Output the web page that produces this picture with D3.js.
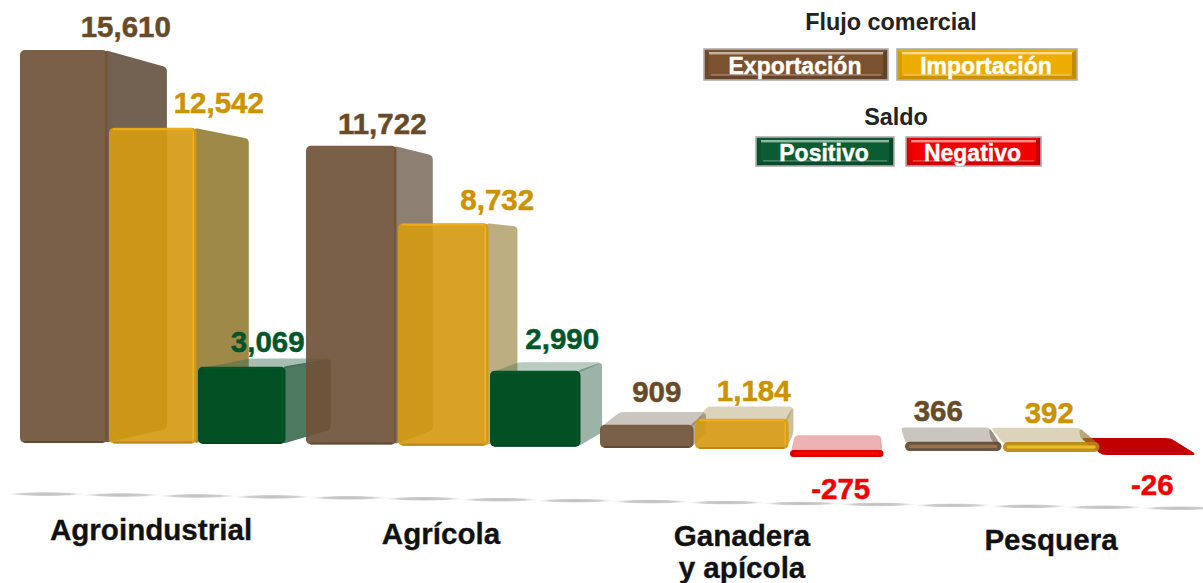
<!DOCTYPE html>
<html>
<head>
<meta charset="utf-8">
<script src="https://cdn.jsdelivr.net/npm/d3@7"></script>
<style>
  html, body { margin: 0; padding: 0; background: #fff; }
  svg { display: block; }
  text { font-family: "Liberation Sans", Arial, sans-serif; font-weight: bold; }
</style>
</head>
<body>
<div id="viz"></div>
<script>
const width = 1203
const height = 583

// Values
const categories = ["Agroindustrial", "Agrícola", "Ganadera\ny apícola", "Pesquera"]
const exportacion = [15610, 11722, 909, 366]
const importacion = [12542, 8732, 1184, 392]
const saldo = [3069, 2990, -275, -26]

const flujoLabels = ["Exportación", "Importación"]
const saldoLabels = ["Positivo", "Negativo"]

const colors = {exp: "#6f5238", imp: "#d49a12", pos: "#024f24", neg: "#f00000"}
const sideColors = {exp: "#6b5a48", imp: "#97803a", pos: "#3a6a50", neg: "#cc2020"}
const textColors = {exp: "#684a28", imp: "#cc9200", pos: "#00562a", neg: "#f00000"}

// Layout, the bars get wider and lower going right because of the perspective
const vanish = {x: 850, y: 265, k: 0.08}
const groupX = d3.scaleLinear().domain([0, 1, 2, 3]).range([20, 306, 600, 905])
const step = d3.scaleLinear().domain([0, 3]).range([89, 98])
const baseY = d3.scaleLinear().domain([0, 3, 6, 11]).range([443, 444.5, 448, 453])
const yScale = d3.scaleLinear().domain([0, 15610]).range([0, 393])
const depthScale = d3.scaleLinear().domain([0, 1, 3]).range([1, 1.012, 1.012])
const sideAlpha = d3.scaleLinear().domain([0, 2, 5]).range([0.95, 0.9, 0.5]).clamp(true)

// label offset from the middle of the bar / from the bar top
const labelDx = [[62, 66, 26], [31, 54, 27], [10, 12, 4], [-15, -2, 3]]
const labelDy = [[-13, -15, -15], [-12, -13, -22], [-23, -18, 49], [-21, -19, 42]]

const svg = d3.select("#viz").append("svg")
  .attr("width", width)
  .attr("height", height)

// Ground line under the bars, a row of thin lens shapes fading at the ends
const lens = svg.append("defs").append("radialGradient").attr("id", "lens")
lens.append("stop").attr("offset", 0).attr("stop-color", "#bdbdbd")
lens.append("stop").attr("offset", 0.6).attr("stop-color", "#cfcfcf")
lens.append("stop").attr("offset", 1).attr("stop-color", "#fff").attr("stop-opacity", 0)

const groundX = d3.scaleLinear().domain([0, 15]).range([46, 1180])
const groundY = d3.scaleLinear().domain([0, 1203]).range([493.5, 508.5])
svg.append("g")
  .selectAll("ellipse")
  .data(d3.range(16))
  .enter().append("ellipse")
  .attr("cx", d => groundX(d))
  .attr("cy", d => groundY(groundX(d)))
  .attr("rx", 42)
  .attr("ry", 2.4)
  .attr("fill", "url(#lens)")

// closed polygon with rounded corners
function roundPoly(pts, r) {
  let path = ""
  pts.forEach((p, i) => {
    const a = pts[(i + pts.length - 1) % pts.length]
    const b = pts[(i + 1) % pts.length]
    const la = Math.hypot(a[0] - p[0], a[1] - p[1]) || 1
    const lb = Math.hypot(b[0] - p[0], b[1] - p[1]) || 1
    const ra = Math.min(r, la / 2), rb = Math.min(r, lb / 2)
    const s = [p[0] + (a[0] - p[0]) * ra / la, p[1] + (a[1] - p[1]) * ra / la]
    const e = [p[0] + (b[0] - p[0]) * rb / lb, p[1] + (b[1] - p[1]) * rb / lb]
    path += (i == 0 ? "M" : "L") + s[0] + "," + s[1] + "Q" + p[0] + "," + p[1] + " " + e[0] + "," + e[1]
  })
  return path + "Z"
}

function back(p) {
  return [p[0] + vanish.k * (vanish.x - p[0]), p[1] + vanish.k * (vanish.y - p[1])]
}

const bars = []
categories.forEach((c, i) => {
  const values = [exportacion[i], importacion[i], saldo[i]]
  values.forEach((v, j) => {
    const key = j == 0 ? "exp" : j == 1 ? "imp" : (v >= 0 ? "pos" : "neg")
    bars.push({i: i, j: j, n: i * 3 + j, value: v, key: key})
  })
})

// negative bars lie behind their neighbours
const drawOrder = bars.slice().sort((a, b) =>
  d3.ascending(a.i, b.i) || d3.descending(a.value < 0, b.value < 0) || d3.ascending(a.j, b.j))

const g = svg.append("g")

drawOrder.forEach(d => {
  const x0 = groupX(d.i) + d.j * step(d.i)
  const x1 = x0 + step(d.i) - 1.5
  const base = baseY(d.n)
  const h = Math.max(yScale(Math.abs(d.value)) * depthScale(d.i), 1)
  const top = d.value >= 0 ? base - h : base
  const bottom = top + h
  d.x0 = x0; d.x1 = x1; d.top = top

  const tl = back([x0, top]), tr = back([x1, top]), br = back([x1, bottom])
  const solid = d.n == 11
  const alpha = solid ? 1 : sideAlpha(d.n)
  const bar = g.append("g").attr("class", "bar")

  bar.append("path")
    .attr("d", roundPoly([[x1 - 3, top], tr, br, [x1 - 3, bottom]], 4))
    .attr("fill", solid ? "#c00000" : sideColors[d.key])
    .attr("fill-opacity", alpha)
  // the top face only shows on bars lower than the vanishing point
  if (top > vanish.y) {
    bar.append("path")
      .attr("d", roundPoly([[x0 + 1, top + 2], tl, tr, [x1 - 1, top + 2]], 4))
      .attr("fill", solid ? "#c00000" : sideColors[d.key])
      .attr("fill-opacity", solid ? 1 : Math.min(alpha, 0.62) * 0.7)
  }

  if (solid) return

  const thin = h < 12
  bar.append("rect")
    .attr("x", x0).attr("y", top)
    .attr("width", x1 - x0).attr("height", h)
    .attr("rx", Math.min(5, h / 2))
    .attr("fill", thin ? d3.color(colors[d.key]).darker(0.4) : colors[d.key])
    .attr("fill-opacity", d.key == "imp" || d.key == "exp" ? 0.92 : 1)

  // bevel on the edges of the front face
  const light = d3.color(colors[d.key]).brighter(0.45)
  const dark = d3.color(colors[d.key]).darker(0.6)
  if (thin) {
    // low bars are almost only bevel, with a light stripe in the middle
    bar.append("rect")
      .attr("x", x0 + 4).attr("y", top + h / 2 - 1.6)
      .attr("width", x1 - x0 - 8).attr("height", 3.2)
      .attr("rx", 1)
      .attr("fill", d.key == "imp" ? "#efbd22" : d3.color(colors[d.key]).brighter(0.9))
    return
  }
  bar.append("rect")
    .attr("x", x0 + 4).attr("y", bottom - 2)
    .attr("width", x1 - x0 - 8).attr("height", 2)
    .attr("rx", 1)
    .attr("fill", dark)
    .attr("fill-opacity", 0.7)
  bar.append("rect")
    .attr("x", x0 + 4).attr("y", top + 0.5)
    .attr("width", x1 - x0 - 8).attr("height", 2)
    .attr("rx", 1)
    .attr("fill", light)
    .attr("fill-opacity", 0.7)
  bar.append("rect")
    .attr("x", x1 - 4).attr("y", top + 3)
    .attr("width", 1.6).attr("height", h - 7)
    .attr("fill", light)
    .attr("fill-opacity", 0.8)
})

// Value labels
const valueFormat = d3.formatLocale({decimal: ".", thousands: ",", grouping: [3], currency: ["", ""], minus: "-"}).format(",")
svg.selectAll(".value")
  .data(bars)
  .enter().append("text")
  .attr("class", "value")
  .attr("x", d => (d.x0 + d.x1) / 2 + labelDx[d.i][d.j])
  .attr("y", d => d.top + labelDy[d.i][d.j])
  .attr("text-anchor", "middle")
  .attr("font-size", 29.5)
  .attr("fill", d => textColors[d.key])
  .attr("stroke", d => textColors[d.key])
  .attr("stroke-width", 0.5)
  .text(d => valueFormat(d.value))

// Category labels
const categoryX = [151, 441, 742, 1051]
const categoryY = [540, 544, 546, 550]
const catText = svg.selectAll(".cat")
  .data(categories)
  .enter().append("text")
  .attr("class", "cat")
  .attr("text-anchor", "middle")
  .attr("font-size", 29.6)
  .attr("fill", "#111")
  .attr("stroke", "#111")
  .attr("stroke-width", 0.3)
catText.selectAll("tspan")
  .data((d, i) => d.split("\n").map((t, l) => ({t: t, l: l, i: i})))
  .enter().append("tspan")
  .attr("x", d => categoryX[d.i])
  .attr("y", d => categoryY[d.i] + d.l * 32)
  .text(d => d.t)

// Legend
function button(x, y, w, h, label, color) {
  const b = svg.append("g").attr("class", "legend-btn")
  const lo = d3.color(color).darker(0.9)
  const hi = d3.interpolateRgb(color, "#fff")(0.55)
  b.append("rect").attr("x", x).attr("y", y).attr("width", w).attr("height", h)
    .attr("fill", color).attr("stroke", "#adadad").attr("stroke-width", 1.6)
  // dark sloped edges
  b.append("path")
    .attr("d", d3.line()([[x + 1, y + h - 1], [x + w - 1, y + h - 1], [x + w - 5, y + h - 4], [x + 5, y + h - 4]]))
    .attr("fill", lo).attr("fill-opacity", 0.55)
  b.append("path")
    .attr("d", d3.line()([[x + w - 1, y + 1], [x + w - 1, y + h - 1], [x + w - 5, y + h - 4], [x + w - 5, y + 4]]))
    .attr("fill", lo).attr("fill-opacity", 0.7)
  b.append("path")
    .attr("d", d3.line()([[x + 1, y + 1], [x + 1, y + h - 1], [x + 5, y + h - 4], [x + 5, y + 4]]))
    .attr("fill", lo).attr("fill-opacity", 0.35)
  // light strip along the top and a fainter one at the bottom
  b.append("rect").attr("x", x + 5).attr("y", y + 3).attr("width", w - 10).attr("height", 2.4)
    .attr("fill", hi)
  b.append("rect").attr("x", x + 7).attr("y", y + h - 6).attr("width", w - 14).attr("height", 1.6)
    .attr("fill", hi).attr("fill-opacity", 0.45)
  b.append("text")
    .attr("x", x + w / 2 - 1).attr("y", y + h / 2 + 9)
    .attr("text-anchor", "middle")
    .attr("font-size", 23)
    .attr("fill", "#fff")
    .attr("stroke", "#fff")
    .attr("stroke-width", 0.4)
    .text(label)
}

svg.append("text").attr("x", 891).attr("y", 30).attr("text-anchor", "middle")
  .attr("font-size", 23.4).attr("fill", "#222").text("Flujo comercial")
svg.append("text").attr("x", 896).attr("y", 125).attr("text-anchor", "middle")
  .attr("font-size", 23.4).attr("fill", "#222").text("Saldo")

button(704, 49, 184, 31, flujoLabels[0], "#7a5230")
button(897, 49, 180, 31, flujoLabels[1], "#edac00")
button(756, 137, 138, 29, saldoLabels[0], "#0b5b33")
button(906, 137, 135, 29, saldoLabels[1], "#f00000")
</script>
</body>
</html>
